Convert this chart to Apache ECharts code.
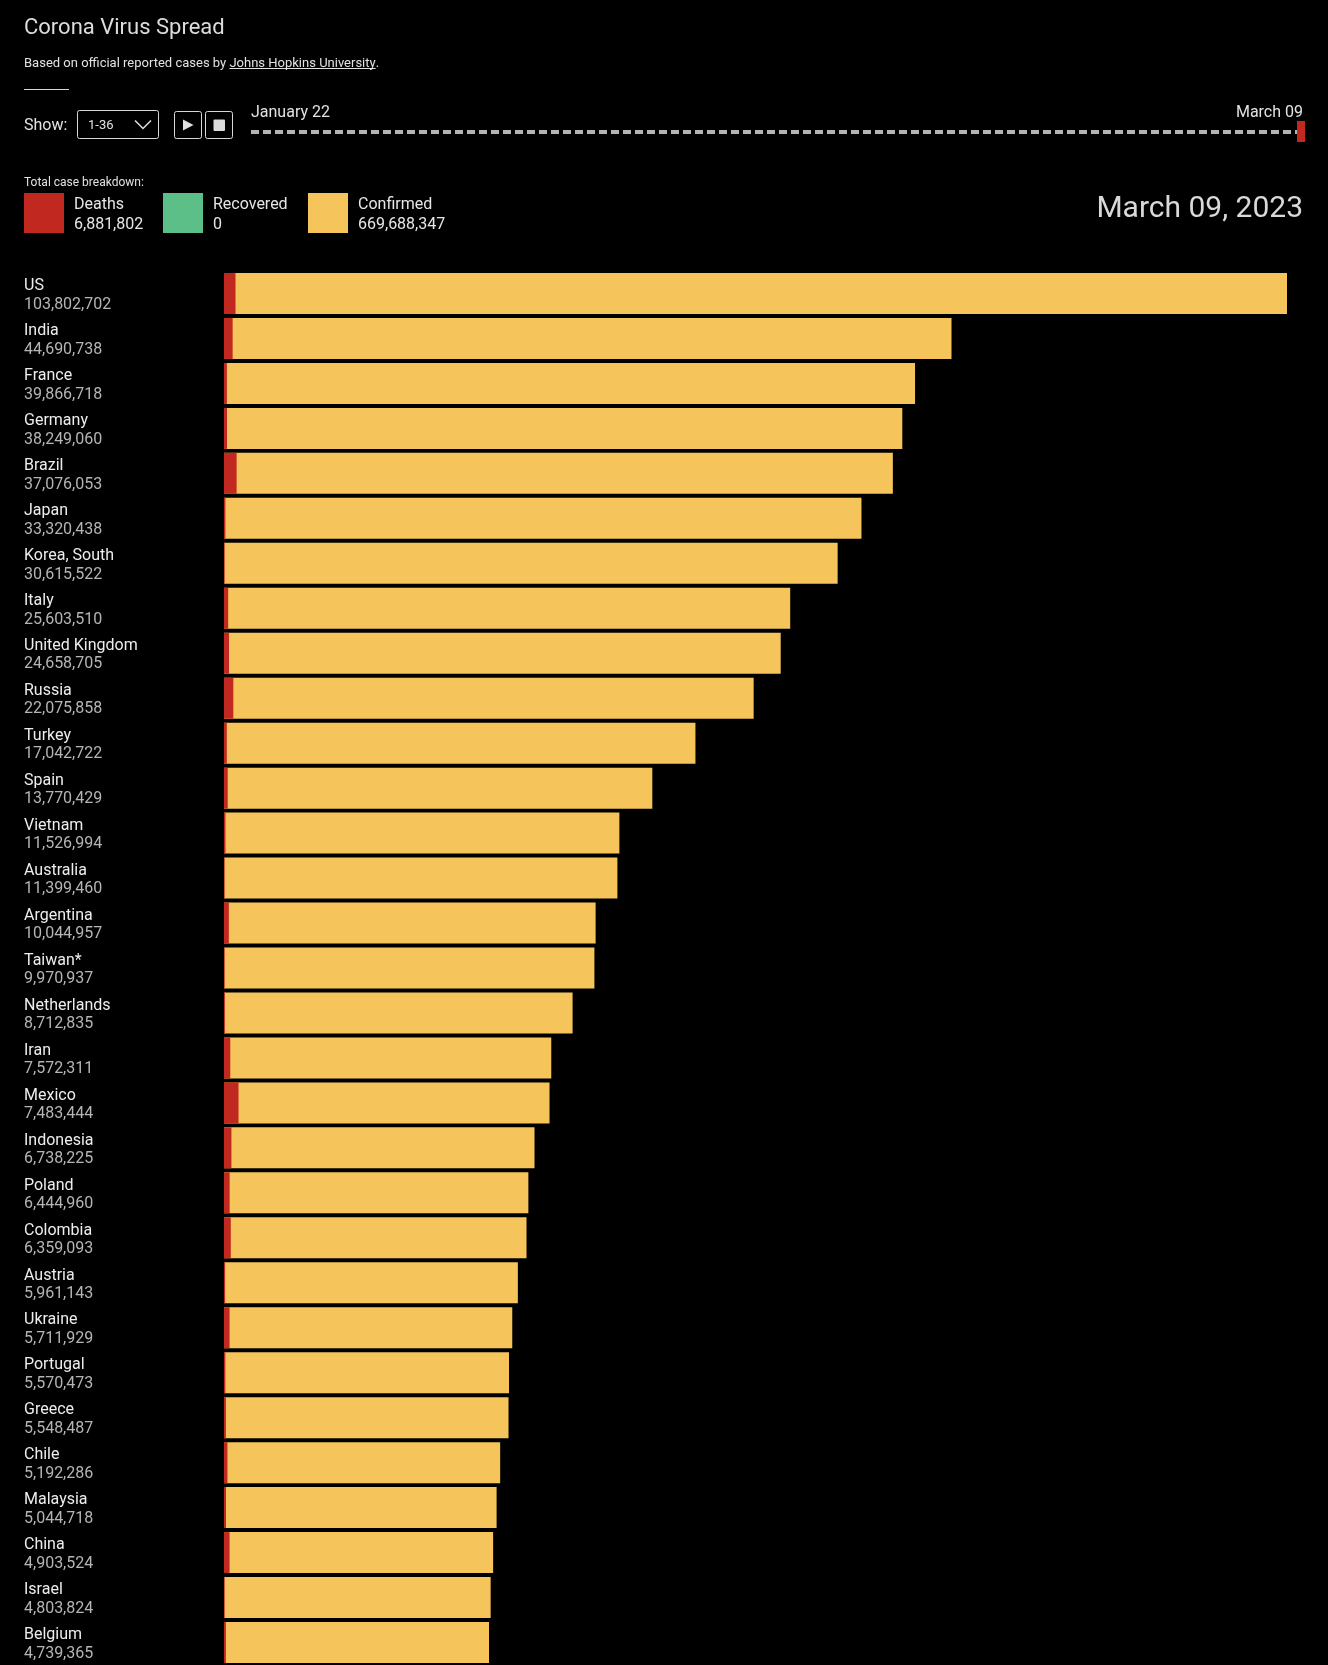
<!DOCTYPE html>
<html>
<head>
<meta charset="utf-8">
<script src="https://cdn.jsdelivr.net/npm/echarts@6/dist/echarts.min.js"></script>
<style>
html,body{margin:0;padding:0;background:#000;}
#chart{width:1328px;height:1665px;}
</style>
</head>
<body>
<div id="chart"></div>
<script>
// ---- data ----
const countries = ["US","India","France","Germany","Brazil","Japan","Korea, South","Italy","United Kingdom","Russia","Turkey","Spain","Vietnam","Australia","Argentina","Taiwan*","Netherlands","Iran","Mexico","Indonesia","Poland","Colombia","Austria","Ukraine","Portugal","Greece","Chile","Malaysia","China","Israel","Belgium"];
const confirmed = [103802702,44690738,39866718,38249060,37076053,33320438,30615522,25603510,24658705,22075858,17042722,13770429,11526994,11399460,10044957,9970937,8712835,7572311,7483444,6738225,6444960,6359093,5961143,5711929,5570473,5548487,5192286,5044718,4903524,4803824,4739365];
const deaths = [1123836,530779,166176,168935,699276,72997,34093,188322,220721,388478,101419,119479,43186,19574,130472,19005,22986,144933,333188,160941,119436,142727,21970,109918,26212,36882,64497,36968,101056,12344,33620];
const totalDeaths = "6,881,802";
const totalRecovered = "0";
const totalConfirmed = "669,688,347";
const showRange = "1-36";
const timelineStart = "January 22";
const timelineEnd = "March 09";
const currentDate = "March 09, 2023";

// ---- style ----
const RED = "#c1281f", GREEN = "#5cbf88", YELLOW = "#f5c55b";
const FONT = "Roboto, 'Noto Sans', sans-serif";
const EXP = 0.45; // power scale used by the original bars
const scale = v => Math.pow(v, EXP);
const fmt = n => n.toLocaleString("en-US");

const confScaled = confirmed.map(scale);
const deathScaled = confirmed.map((c, i) => scale(c) * deaths[i] / c);

function measure(text, size) {
  const ctx = document.createElement("canvas").getContext("2d");
  ctx.font = size + "px " + FONT;
  return ctx.measureText(text).width;
}

function txt(x, y, text, size, fill, align) {
  return {
    type: "text", x: x, y: y, silent: true,
    style: { text: text, font: size + "px " + FONT, fill: fill,
      align: align || "left", verticalAlign: "middle",
      textAlign: align || "left", textVerticalAlign: "middle" }
  };
}

const subPrefix = "Based on official reported cases by ";
const subLink = "Johns Hopkins University";
const subSize = 13;
const linkX = 24 + measure(subPrefix, subSize);
const linkW = measure(subLink, subSize);

const graphics = [
  txt(24, 28, "Corona Virus Spread", 22, "#dcdcdc"),
  txt(24, 64, subPrefix, subSize, "#e2e2e2"),
  txt(linkX, 64, subLink, subSize, "#e2e2e2"),
  txt(linkX + linkW, 64, ".", subSize, "#e2e2e2"),
  { type: "line", silent: true, shape: { x1: linkX, y1: 68.5, x2: linkX + linkW, y2: 68.5 }, style: { stroke: "#e2e2e2", lineWidth: 1 } },
  { type: "line", silent: true, shape: { x1: 24, y1: 89.5, x2: 69, y2: 89.5 }, style: { stroke: "#d8d8d8", lineWidth: 1 } },
  txt(24, 126, "Show:", 16, "#e2e2e2"),
  { type: "rect", silent: true, shape: { x: 77.5, y: 110.5, width: 81, height: 28, r: 2 }, style: { fill: "none", stroke: "#d8d8d8", lineWidth: 1 } },
  txt(88, 126, showRange, 13, "#e2e2e2"),
  { type: "polyline", silent: true, shape: { points: [[135, 120.5], [143, 128.5], [151, 120.5]] }, style: { stroke: "#e2e2e2", lineWidth: 1.5, fill: "none" } },
  { type: "rect", silent: true, shape: { x: 174.5, y: 111.5, width: 27, height: 27, r: 2 }, style: { fill: "none", stroke: "#d8d8d8", lineWidth: 1 } },
  { type: "polygon", silent: true, shape: { points: [[183, 119.5], [193.5, 125], [183, 130.5]] }, style: { fill: "#e2e2e2" } },
  { type: "rect", silent: true, shape: { x: 205.5, y: 111.5, width: 27, height: 27, r: 2 }, style: { fill: "none", stroke: "#d8d8d8", lineWidth: 1 } },
  { type: "rect", silent: true, shape: { x: 213.5, y: 119.5, width: 11.5, height: 11.5, r: 1 }, style: { fill: "#dcdcdc" } },
  txt(251, 112.5, timelineStart, 16, "#e2e2e2"),
  txt(1303, 112.5, timelineEnd, 16, "#e2e2e2", "right"),
  { type: "line", silent: true, shape: { x1: 251, y1: 132, x2: 1297, y2: 132 }, style: { stroke: "#b4b4b4", lineWidth: 4, lineDash: [8, 4] } },
  { type: "rect", silent: true, shape: { x: 1297, y: 121, width: 8, height: 21 }, style: { fill: RED } },
  txt(24, 182.5, "Total case breakdown:", 12, "#e2e2e2"),
  { type: "rect", silent: true, shape: { x: 24, y: 193, width: 40, height: 40 }, style: { fill: RED } },
  txt(74, 205, "Deaths", 16, "#e6e6e6"),
  txt(74, 224.5, totalDeaths, 16, "#e6e6e6"),
  { type: "rect", silent: true, shape: { x: 163, y: 193, width: 40, height: 40 }, style: { fill: GREEN } },
  txt(213, 205, "Recovered", 16, "#e6e6e6"),
  txt(213, 224.5, totalRecovered, 16, "#e6e6e6"),
  { type: "rect", silent: true, shape: { x: 308, y: 193, width: 40, height: 40 }, style: { fill: YELLOW } },
  txt(358, 205, "Confirmed", 16, "#e6e6e6"),
  txt(358, 224.5, totalConfirmed, 16, "#e6e6e6"),
  txt(1303, 209, currentDate, 30, "#d9d9d9", "right")
];

const chart = echarts.init(document.getElementById("chart"), null, { renderer: "canvas" });
chart.setOption({
  backgroundColor: "#000",
  animation: false,
  grid: { left: 224, top: 271, width: 1063, height: 45 * countries.length, containLabel: false },
  xAxis: { type: "value", min: 0, max: scale(Math.max.apply(null, confirmed)), show: false },
  yAxis: {
    type: "category", inverse: true, data: countries,
    axisLine: { show: false }, axisTick: { show: false }, splitLine: { show: false },
    axisLabel: {
      align: "left", margin: 200, interval: 0, padding: [4, 0, 0, 0],
      formatter: (v, i) => "{n|" + v + "}\n{v|" + fmt(confirmed[i]) + "}",
      rich: {
        n: { fontFamily: FONT, fontSize: 16, color: "#ededed", lineHeight: 18.5 },
        v: { fontFamily: FONT, fontSize: 16, color: "#b5b5b5", lineHeight: 18.5 }
      }
    }
  },
  series: [
    { name: "Confirmed", type: "bar", data: confScaled, barWidth: 41, itemStyle: { color: YELLOW }, silent: true },
    { name: "Deaths", type: "bar", data: deathScaled, barWidth: 41, barGap: "-100%", itemStyle: { color: RED }, silent: true }
  ],
  graphic: graphics
});
</script>
</body>
</html>
